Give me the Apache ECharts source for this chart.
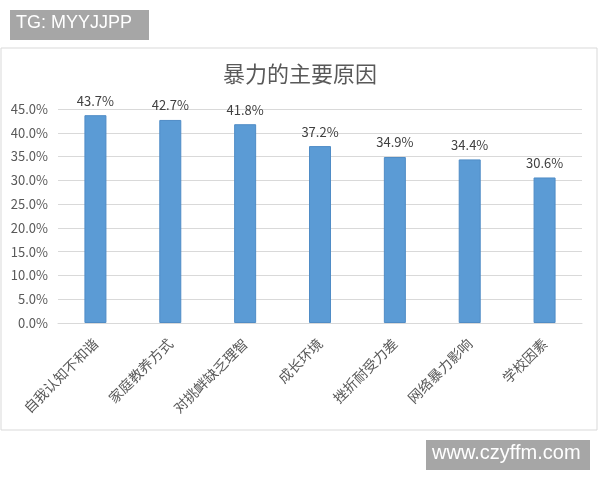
<!DOCTYPE html>
<html>
<head>
<meta charset="utf-8">
<script src="https://cdn.jsdelivr.net/npm/echarts@6/dist/echarts.min.js"></script>
<style>
  html,body{margin:0;padding:0;background:#fff;}
  #main{width:600px;height:480px;}
</style>
</head>
<body>
<div id="main"></div>
<script>
// 数据
var categories=['自我认知不和谐','家庭教养方式','对挑衅缺乏理智','成长环境','挫折耐受力差','网络暴力影响','学校因素'];
var values=[43.7,42.7,41.8,37.2,34.9,34.4,30.6];
var yTicks=[0,5,10,15,20,25,30,35,40,45];

var font='"Noto Sans CJK SC","Liberation Sans",sans-serif';
var myChart=echarts.init(document.getElementById('main'));

var option={
    backgroundColor:'#fff',
    animation:false,
    title:{
        text:'暴力的主要原因',
        left:'center',
        top:58,
        textStyle:{color:'#595959',fontSize:22,fontWeight:'normal',fontFamily:font}
    },
    grid:{left:58,right:18,top:109,bottom:157},
    xAxis:{
        type:'category',
        data:categories,
        axisLine:{lineStyle:{color:'#d9d9d9'}},
        axisTick:{show:false},
        axisLabel:{rotate:45,color:'#595959',fontSize:14,margin:18,interval:0,fontFamily:font,
                   padding:[0,0,0,0]}
    },
    yAxis:{
        type:'value',
        min:yTicks[0],
        max:yTicks[yTicks.length-1],
        interval:yTicks[1]-yTicks[0],
        axisLine:{show:false},
        axisTick:{show:false},
        splitLine:{lineStyle:{color:'#d9d9d9'}},
        axisLabel:{
            color:'#595959',fontSize:13,margin:10,fontFamily:font,
            formatter:function(v){return v.toFixed(1)+'%';}
        }
    },
    series:[{
        type:'bar',
        data:values,
        barWidth:22,
        itemStyle:{color:'#5b9bd5',borderColor:'#4f8cc6',borderWidth:1},
        label:{
            show:true,
            position:'top',
            distance:8,
            color:'#404040',
            fontSize:13,
            fontFamily:font,
            formatter:function(p){return p.value.toFixed(1)+'%';}
        }
    }],
    graphic:[
        {type:'rect',z:-10,shape:{x:1,y:48,width:596,height:382},
         style:{fill:'#fff',stroke:'#d9d9d9',lineWidth:1}},
        {type:'rect',shape:{x:10,y:10,width:139,height:30},style:{fill:'#a6a6a6'}},
        {type:'text',left:16,top:14,style:{text:'TG: MYYJJPP',fill:'#fff',fontSize:18,fontFamily:'"Liberation Sans",Arial,sans-serif'}},
        {type:'rect',shape:{x:426,y:440,width:164,height:30},style:{fill:'#a6a6a6'}},
        {type:'text',left:432,top:443,style:{text:'www.czyffm.com',fill:'#fff',fontSize:20,fontFamily:'"Liberation Sans",Arial,sans-serif'}}
    ]
};

myChart.setOption(option);
</script>
</body>
</html>
